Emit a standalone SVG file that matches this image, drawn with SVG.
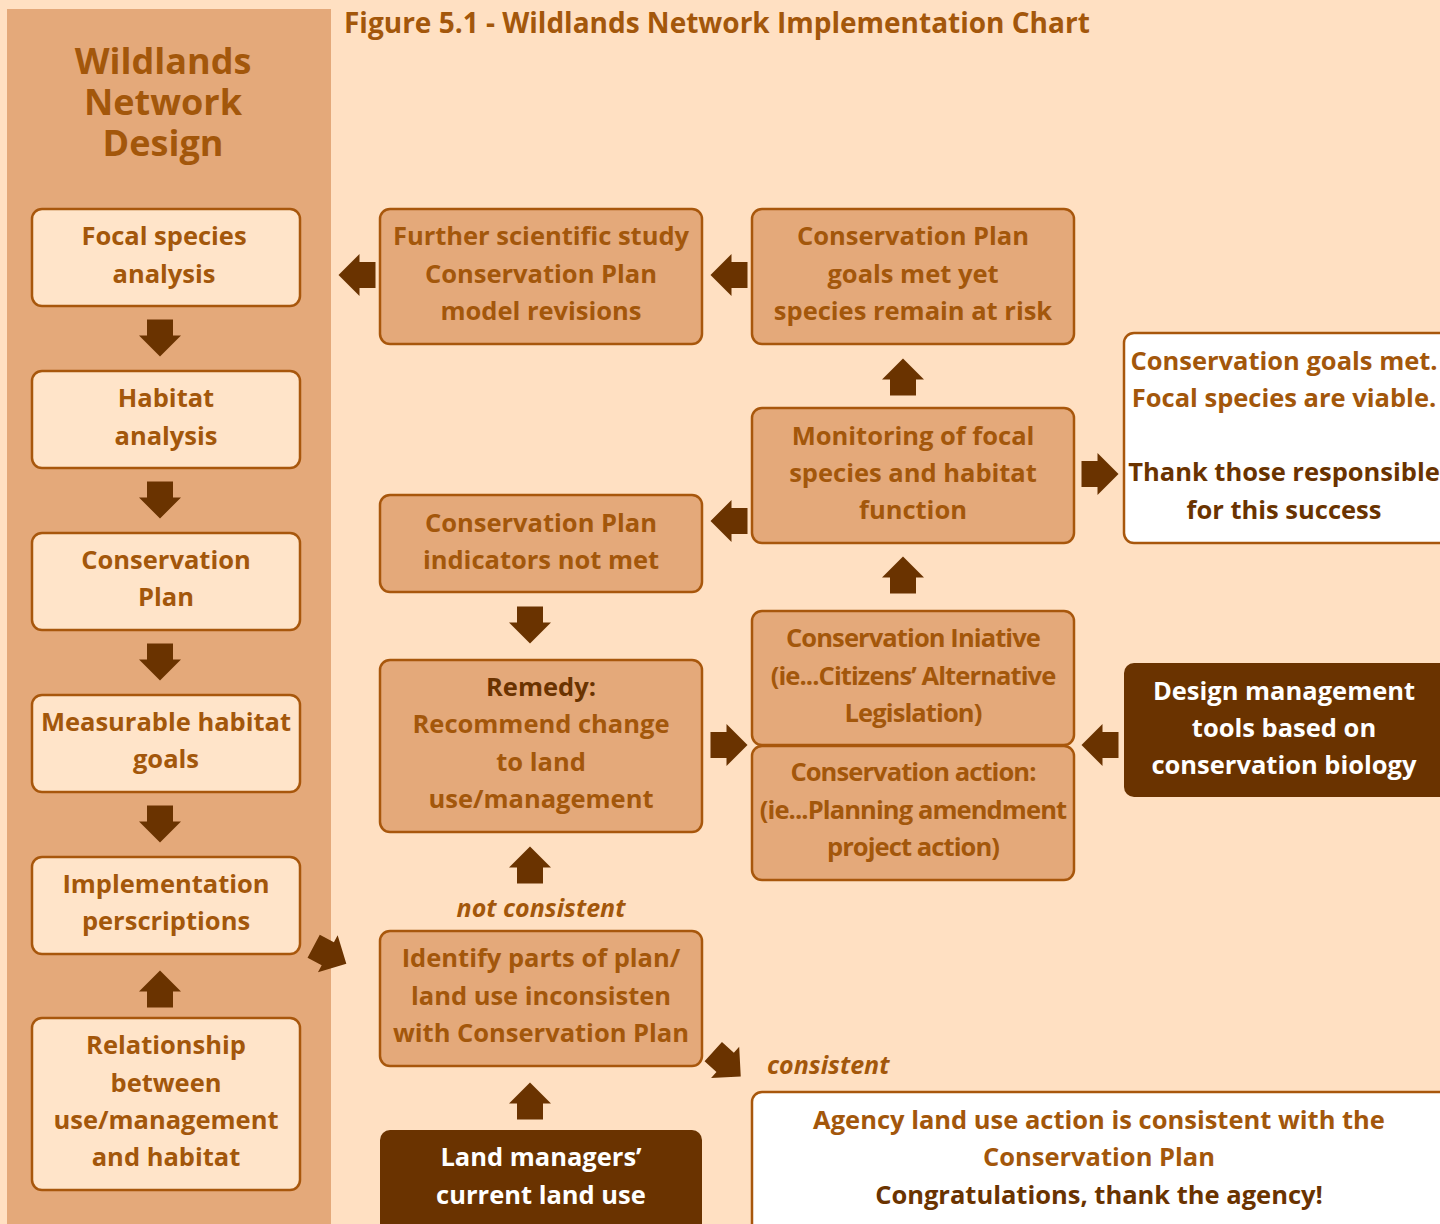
<svg xmlns="http://www.w3.org/2000/svg" xmlns:xlink="http://www.w3.org/1999/xlink" width="1440" height="1224" viewBox="0 0 1440 1224">
<defs>
<path id="arr" d="M-18.5,-13 H-2.5 V-21 L18.5,0 L-2.5,21 V13 H-18.5 Z" fill="#6A3300"/>
</defs>
<style>
text{font-family:"Open Sans","Noto Sans","Liberation Sans",sans-serif;font-weight:700;text-anchor:middle}
.t{font-size:25.5px;fill:#A3570B}
.d{font-size:25.5px;fill:#6A3300}
.w{font-size:25.5px;fill:#FFFFFF}
.c{font-size:25.5px;fill:#A3570B;letter-spacing:-0.9px}
.i{font-size:25px;fill:#A3570B;font-style:italic}
.bx{fill:#E4A97A;stroke:#A8570C;stroke-width:2.5}
.lt{fill:#FFE4C9;stroke:#A8570C;stroke-width:2.5}
.wh{fill:#FFFFFF;stroke:#A8570C;stroke-width:2.5}
.dk{fill:#6A3300}
</style>
<rect width="1440" height="1224" fill="#FFE0C2"/>
<rect x="7" y="9" width="324" height="1220" fill="#E4A97A"/>
<text x="344" y="33" style="text-anchor:start;font-size:28px;fill:#A3570B">Figure 5.1 - Wildlands Network Implementation Chart</text>
<g id="heading">
<text x="163" y="74" style="font-size:36px;fill:#A3570B">Wildlands</text>
<text x="163" y="115" style="font-size:36px;fill:#A3570B">Network</text>
<text x="163" y="156" style="font-size:36px;fill:#A3570B">Design</text>
</g>
<g id="focal"><rect class="lt" x="32" y="209" width="268" height="97" rx="10"/><text class="t" x="164" y="245">Focal species</text><text class="t" x="164" y="283">analysis</text></g>
<g id="habitat"><rect class="lt" x="32" y="371" width="268" height="97" rx="10"/><text class="t" x="166" y="407">Habitat</text><text class="t" x="166" y="445">analysis</text></g>
<g id="consplan"><rect class="lt" x="32" y="533" width="268" height="97" rx="10"/><text class="t" x="166" y="569">Conservation</text><text class="t" x="166" y="606">Plan</text></g>
<g id="measurable"><rect class="lt" x="32" y="695" width="268" height="97" rx="10"/><text class="t" x="166" y="731">Measurable habitat</text><text class="t" x="166" y="768">goals</text></g>
<g id="implementation"><rect class="lt" x="32" y="857" width="268" height="97" rx="10"/><text class="t" x="166" y="893">Implementation</text><text class="t" x="166" y="930">perscriptions</text></g>
<g id="relationship"><rect class="lt" x="32" y="1018" width="268" height="172" rx="10"/><text class="t" x="166" y="1054">Relationship</text><text class="t" x="166" y="1092">between</text><text class="t" x="166" y="1129">use/management</text><text class="t" x="166" y="1166">and habitat</text></g>
<g id="further"><rect class="bx" x="380" y="209" width="322" height="135" rx="10"/><text class="t" x="541" y="245">Further scientific study</text><text class="t" x="541" y="283">Conservation Plan</text><text class="t" x="541" y="320">model revisions</text></g>
<g id="goalsmet"><rect class="bx" x="752" y="209" width="322" height="135" rx="10"/><text class="t" x="913" y="245">Conservation Plan</text><text class="t" x="913" y="283">goals met yet</text><text class="t" x="913" y="320">species remain at risk</text></g>
<g id="viable"><rect class="wh" x="1124" y="333" width="330" height="210" rx="10"/><text class="t" x="1284" y="370">Conservation goals met.</text><text class="t" x="1284" y="407">Focal species are viable.</text><text class="d" x="1284" y="481">Thank those responsible</text><text class="d" x="1284" y="519">for this success</text></g>
<g id="monitoring"><rect class="bx" x="752" y="408" width="322" height="135" rx="10"/><text class="t" x="913" y="445">Monitoring of focal</text><text class="t" x="913" y="482">species and habitat</text><text class="t" x="913" y="519">function</text></g>
<g id="indicators"><rect class="bx" x="380" y="495" width="322" height="97" rx="10"/><text class="t" x="541" y="532">Conservation Plan</text><text class="t" x="541" y="569">indicators not met</text></g>
<g id="remedy"><rect class="bx" x="380" y="660" width="322" height="172" rx="10"/><text class="d" x="541" y="696">Remedy:</text><text class="t" x="541" y="733">Recommend change</text><text class="t" x="541" y="771">to land</text><text class="t" x="541" y="808">use/management</text></g>
<g id="initiative"><rect class="bx" x="752" y="611" width="322" height="134" rx="10"/><text class="c" x="913" y="647">Conservation Iniative</text><text class="c" x="913" y="685">(ie...Citizens’ Alternative</text><text class="c" x="913" y="722">Legislation)</text></g>
<g id="action"><rect class="bx" x="752" y="746" width="322" height="134" rx="10"/><text class="c" x="913" y="781">Conservation action:</text><text class="c" x="913" y="819">(ie...Planning amendment</text><text class="c" x="913" y="856">project action)</text></g>
<g id="design"><rect class="dk" x="1124" y="663" width="330" height="134" rx="10"/><text class="w" x="1284" y="700">Design management</text><text class="w" x="1284" y="737">tools based on</text><text class="w" x="1284" y="774">conservation biology</text></g>
<g id="identify"><rect class="bx" x="380" y="931" width="322" height="135" rx="10"/><text class="t" x="541" y="967">Identify parts of plan/</text><text class="t" x="541" y="1005">land use inconsisten</text><text class="t" x="541" y="1042">with Conservation Plan</text></g>
<g id="landmanagers"><rect class="dk" x="380" y="1130" width="322" height="110" rx="10"/><text class="w" x="541" y="1166">Land managers’</text><text class="w" x="541" y="1204">current land use</text></g>
<g id="agency"><rect class="wh" x="752" y="1092" width="700" height="150" rx="10"/><text class="t" x="1099" y="1129">Agency land use action is consistent with the</text><text class="t" x="1099" y="1166">Conservation Plan</text><text class="d" x="1099" y="1204">Congratulations, thank the agency!</text></g>
<g id="labels">
<text class="i" x="541" y="917">not consistent</text>
<text class="i" x="767" y="1074" style="text-anchor:start">consistent</text>
</g>
<g id="connectors">
<use xlink:href="#arr" transform="translate(160,338) rotate(90)"/>
<use xlink:href="#arr" transform="translate(160,500) rotate(90)"/>
<use xlink:href="#arr" transform="translate(160,662) rotate(90)"/>
<use xlink:href="#arr" transform="translate(160,824) rotate(90)"/>
<use xlink:href="#arr" transform="translate(160,989) rotate(-90)"/>
<use xlink:href="#arr" transform="translate(357,275) rotate(180)"/>
<use xlink:href="#arr" transform="translate(729,275) rotate(180)"/>
<use xlink:href="#arr" transform="translate(903,377) rotate(-90)"/>
<use xlink:href="#arr" transform="translate(1100,474)"/>
<use xlink:href="#arr" transform="translate(729,521) rotate(180)"/>
<use xlink:href="#arr" transform="translate(903,575) rotate(-90)"/>
<use xlink:href="#arr" transform="translate(530,625) rotate(90)"/>
<use xlink:href="#arr" transform="translate(729,745)"/>
<use xlink:href="#arr" transform="translate(1100,745) rotate(180)"/>
<use xlink:href="#arr" transform="translate(530,865) rotate(-90)"/>
<use xlink:href="#arr" transform="translate(330,955) rotate(28)"/>
<use xlink:href="#arr" transform="translate(727,1064) rotate(42)"/>
<use xlink:href="#arr" transform="translate(530,1101) rotate(-90)"/>
</g>
</svg>
